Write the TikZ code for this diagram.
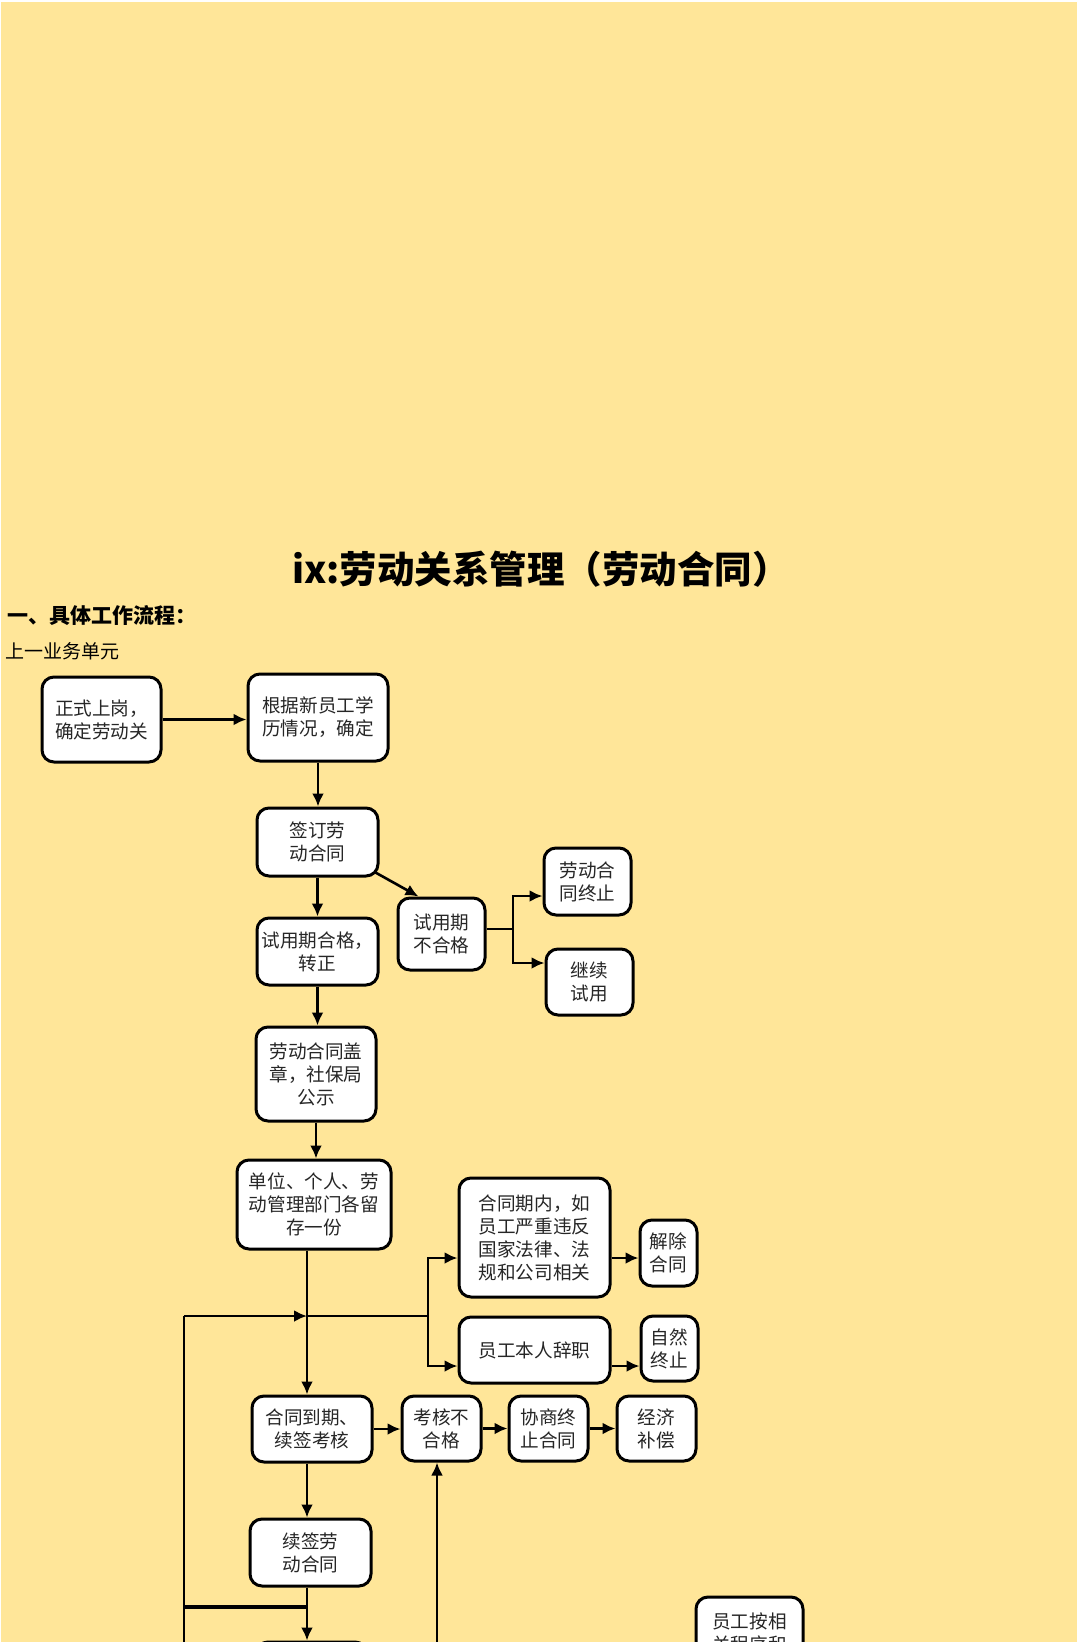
\documentclass[tikz,border=0pt]{standalone}
\usepackage{fontspec}
\setmainfont{Noto Sans CJK SC}
\usetikzlibrary{arrows.meta,calc}
\definecolor{bgyellow}{HTML}{FFE699}
\pgfdeclarelayer{bg}
\pgfdeclarelayer{fg}
\pgfsetlayers{bg,main,fg}
\begin{document}
\begin{tikzpicture}[x=1pt,y=-1pt,
  box/.style={draw=black, line width=3pt, rounded corners=12pt, fill=white,
    align=center, inner sep=0pt, text=black!85,
    font=\fontsize{18.6}{23}\selectfont},
  ln/.style={line width=2.6pt},
  arr/.style={line width=2.6pt, -{Latex[length=13pt,width=12pt]}}]
\useasboundingbox (0,0) rectangle (1080,1646);
% titles
\node[font=\bfseries\fontsize{37.5}{44}\selectfont, inner sep=0] (title) at (541,569) {ix:劳动关系管理（劳动合同）};
\node[anchor=west, font=\bfseries\fontsize{21}{25}\selectfont, inner sep=0] (h1) at (7,616) {一、具体工作流程：};
\node[anchor=west, font=\fontsize{19}{23}\selectfont, inner sep=0] (h2) at (5,651.5) {上一业务单元};
% boxes
\node[box, minimum width=119, minimum height=85] (b1) at (101.5,719.5) {正式上岗，\\确定劳动关};
\node[box, minimum width=140, minimum height=87] (b2) at (318,717.5) {根据新员工学\\历情况，确定};
\node[box, minimum width=121, minimum height=68] (b3) at (317.5,842) {签订劳\\动合同};
\node[box, minimum width=121, minimum height=67] (b4) at (317.5,951.5) {试用期合格，\\转正};
\node[box, minimum width=120, minimum height=94] (b5) at (316,1074) {劳动合同盖\\章，社保局\\公示};
\node[box, minimum width=87, minimum height=72] (b6) at (441.5,934) {试用期\\不合格};
\node[box, minimum width=87, minimum height=67] (b7) at (587.5,881.5) {劳动合\\同终止};
\node[box, minimum width=87, minimum height=66] (b8) at (589.5,982) {继续\\试用};
\node[box, minimum width=154, minimum height=89] (b9) at (314,1204.5) {单位、个人、劳\\动管理部门各留\\存一份};
\node[box, minimum width=151, minimum height=119] (b10) at (534.5,1237.5) {合同期内，如\\员工严重违反\\国家法律、法\\规和公司相关};
\node[box, minimum width=151, minimum height=66] (b11) at (534.5,1350) {员工本人辞职};
\node[box, minimum width=57, minimum height=66] (b12) at (668.5,1253) {解除\\合同};
\node[box, minimum width=57, minimum height=65] (b13) at (669.5,1348.5) {自然\\终止};
\node[box, minimum width=120, minimum height=66] (b14) at (312,1429) {合同到期、\\续签考核};
\node[box, minimum width=79, minimum height=65] (b15) at (441.5,1428.5) {考核不\\合格};
\node[box, minimum width=79, minimum height=65] (b16) at (548.5,1428.5) {协商终\\止合同};
\node[box, minimum width=79, minimum height=65] (b17) at (656.5,1428.5) {经济\\补偿};
\node[box, minimum width=121, minimum height=67] (b18) at (310.5,1552.5) {续签劳\\动合同};
\node[box, minimum width=111, minimum height=68] (b19) at (311.5,1676) {};
\node[box, minimum width=107, minimum height=100] (b20) at (749.5,1647) {};
\node[anchor=north, align=center, inner sep=0, text=black!85, font=\fontsize{18.6}{23}\selectfont] (b20t) at ([yshift=-17pt]b20.north) {员工按相\\关程序和};
% junction coordinates
\coordinate (v1) at (307,1316);
\coordinate (L) at (184,1316);
\coordinate (Lbot) at (184,1660);
\coordinate (v2) at (428,1316);
\coordinate (v2t) at (428,1258);
\coordinate (v2b) at (428,1366);
\coordinate (j1) at (513,929);
\coordinate (j1a) at (513,896);
\coordinate (j1b) at (513,963);
\coordinate (L2) at (184,1607);
\coordinate (U) at (437,1660);
\begin{pgfonlayer}{bg}
\fill[white] (0,0) rectangle (1080,1646);
\fill[bgyellow] (1,2) rectangle (1077,1642);
\draw[arr] (b1.east) -- (b1.east -| b2.west);
\draw[arr] (b2.south) -- (b2.south |- b3.north);
\draw[arr] (b3.south) -- (b3.south |- b4.north);
\draw[arr] (b4.south) -- (b4.south |- b5.north);
\draw[arr] (b5.south) -- (b5.south |- b9.north);
\draw[arr] ([xshift=-4pt,yshift=5pt]b3.south east) -- ([xshift=22pt]b6.north west);
\draw[ln] (j1 -| b6.east) -- (j1);
\draw[ln, line cap=rect] (j1a) -- (j1b);
\draw[arr] (j1a) -- (j1a -| b7.west);
\draw[arr] (j1b) -- (j1b -| b8.west);
\draw[arr] (b9.south -| v1) -- (v1 |- b14.north);
\draw[ln] (Lbot) -- (L);
\draw[arr] (L) -- (v1);
\draw[ln] (v1) -- (v2);
\draw[ln, line cap=rect] (v2t) -- (v2b);
\draw[arr] (v2t) -- (v2t -| b10.west);
\draw[arr] (v2b) -- (v2b -| b11.west);
\draw[arr] (v2t -| b10.east) -- (v2t -| b12.west);
\draw[arr] (v2b -| b11.east) -- (v2b -| b13.west);
\draw[arr] (b14.east) -- (b14.east -| b15.west);
\draw[arr] (b15.east) -- (b15.east -| b16.west);
\draw[arr] (b16.east) -- (b16.east -| b17.west);
\draw[arr] (b14.south -| v1) -- (v1 |- b18.north);
\draw[arr] (b18.south -| v1) -- (v1 |- b19.north);
\draw[line width=3.4pt] (L2) -- (L2 -| v1);
\draw[arr] (U) -- (U |- b15.south);
\end{pgfonlayer}
\begin{pgfonlayer}{fg}
\fill[white] (0,1642) rectangle (1080,1700);
\fill[white] (1077,0) rectangle (1100,1646);
\end{pgfonlayer}
\end{tikzpicture}
\end{document}
